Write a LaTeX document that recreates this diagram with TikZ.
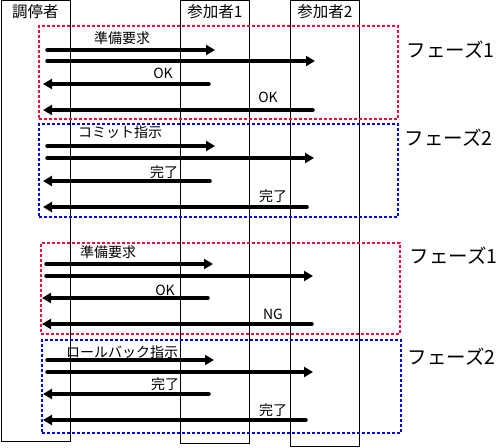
\documentclass[tikz,border=0pt]{standalone}
\usepackage{fontspec}
\setmainfont{Noto Sans CJK JP}
\usetikzlibrary{positioning,arrows.meta}
\definecolor{phasered}{RGB}{255,0,64}
\definecolor{phaseblue}{RGB}{0,0,255}

\begin{document}
\begin{tikzpicture}[x=1pt,y=-1pt,
  lifeline/.style={draw,line width=1pt,anchor=north west,minimum width=69pt,inner sep=0pt},
  actor/.style={font=\fontsize{15.5pt}{16pt}\selectfont},
  phasebox/.style={draw=#1,densely dashed,line width=1.5pt,anchor=north west,inner sep=0pt,minimum width=359pt},
  phasename/.style={font=\fontsize{19.5pt}{21pt}\selectfont,anchor=west,inner sep=0pt},
  msgtext/.style={font=\fontsize{14pt}{15pt}\selectfont,inner sep=1pt},
  msg/.style={line width=3.5pt,line cap=round,-{Triangle[length=9pt,width=10pt]}}]
\useasboundingbox (0,0) rectangle (500,447);
%the lifelines
\node [lifeline,minimum height=441pt] (coord) at (0.5,0) {};
\node [lifeline,minimum height=443pt] (part1) at (180,0) {};
\node [lifeline,minimum height=446pt] (part2) at (290,0) {};
\node [actor,below=1pt of coord.north] (coordname) {調停者};
\node [actor,below=1pt of part1.north] (part1name) {参加者1};
\node [actor,below=1pt of part2.north] (part2name) {参加者2};
%the phase boxes
\node [phasebox=phasered,minimum height=93pt] (prepA) at (38,25) {};
\node [phasebox=phaseblue,minimum height=93pt] (commitA) at (38,123) {};
\node [phasebox=phasered,minimum height=91pt] (prepB) at (40,242) {};
\node [phasebox=phaseblue,minimum height=93pt] (rollB) at (41,339) {};
\node [phasename] (prepAname) at ([xshift=8pt,yshift=-25pt]prepA.north east) {フェーズ1};
\node [phasename] (commitAname) at ([xshift=6pt,yshift=-15pt]commitA.north east) {フェーズ2};
\node [phasename] (prepBname) at ([xshift=9pt,yshift=-14pt]prepB.north east) {フェーズ1};
\node [phasename] (rollBname) at ([xshift=6pt,yshift=-18pt]rollB.north east) {フェーズ2};
%the message texts
\node [msgtext] (reqA) at (122,38) {準備要求};
\node [msgtext] (okA1) at (163,73) {OK};
\node [msgtext] (okA2) at (268,97) {OK};
\node [msgtext] (comA) at (120,132) {コミット指示};
\node [msgtext] (doneA1) at (164,172) {完了};
\node [msgtext] (doneA2) at (273,196) {完了};
\node [msgtext] (reqB) at (108,252) {準備要求};
\node [msgtext] (okB) at (165,290) {OK};
\node [msgtext] (ngB) at (273,314) {NG};
\node [msgtext] (rollB) at (122,352) {ロールバック指示};
\node [msgtext] (doneB1) at (165,384) {完了};
\node [msgtext] (doneB2) at (273,410) {完了};
%the ends of the messages
\coordinate (reqAfrom) at (47,50);   \coordinate (reqAto) at (215,50);
\coordinate (reqA2from) at (47,61);  \coordinate (reqA2to) at (315,61);
\coordinate (okA1from) at (209,84);  \coordinate (okA1to) at (43,84);
\coordinate (okA2from) at (313,110); \coordinate (okA2to) at (43,110);
\coordinate (comAfrom) at (47,146);  \coordinate (comAto) at (215,146);
\coordinate (comA2from) at (47,158); \coordinate (comA2to) at (314,158);
\coordinate (doneA1from) at (210,181); \coordinate (doneA1to) at (43,181);
\coordinate (doneA2from) at (307,207); \coordinate (doneA2to) at (43,207);
\coordinate (reqBfrom) at (46,264);  \coordinate (reqBto) at (213,264);
\coordinate (reqB2from) at (46,276); \coordinate (reqB2to) at (313,276);
\coordinate (okBfrom) at (208,298);  \coordinate (okBto) at (42,298);
\coordinate (ngBfrom) at (312,324);  \coordinate (ngBto) at (42,324);
\coordinate (rollBfrom) at (47,360); \coordinate (rollBto) at (214,360);
\coordinate (rollB2from) at (47,372); \coordinate (rollB2to) at (313,372);
\coordinate (doneB1from) at (209,394); \coordinate (doneB1to) at (43,394);
\coordinate (doneB2from) at (306,420); \coordinate (doneB2to) at (43,420);
%drawings of the messages
\draw[msg] (reqAfrom) -- (reqAto);
\draw[msg] (reqA2from) -- (reqA2to);
\draw[msg] (okA1from) -- (okA1to);
\draw[msg] (okA2from) -- (okA2to);

\draw[msg] (comAfrom) -- (comAto);
\draw[msg] (comA2from) -- (comA2to);
\draw[msg] (doneA1from) -- (doneA1to);
\draw[msg] (doneA2from) -- (doneA2to);

\draw[msg] (reqBfrom) -- (reqBto);
\draw[msg] (reqB2from) -- (reqB2to);
\draw[msg] (okBfrom) -- (okBto);
\draw[msg] (ngBfrom) -- (ngBto);

\draw[msg] (rollBfrom) -- (rollBto);
\draw[msg] (rollB2from) -- (rollB2to);
\draw[msg] (doneB1from) -- (doneB1to);
\draw[msg] (doneB2from) -- (doneB2to);
\end{tikzpicture}
\end{document}
